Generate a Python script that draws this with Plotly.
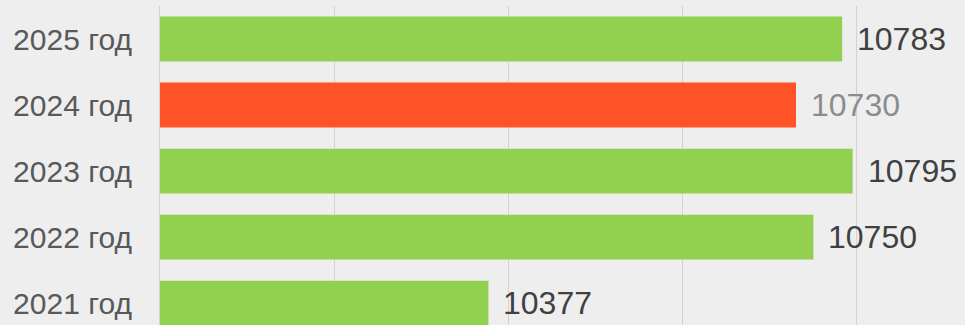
import plotly.graph_objects as go

# Data
years = ["2021 год", "2022 год", "2023 год", "2024 год", "2025 год"]
values = [10377, 10750, 10795, 10730, 10783]
bar_colors = ["#92D050", "#92D050", "#92D050", "#FF5227", "#92D050"]
label_colors = ["#404040", "#404040", "#404040", "#8C8C8C", "#404040"]

x_start = 10000
x_end = 10924
grid_step = 200

fig = go.Figure()
fig.add_trace(go.Bar(
    y=years,
    x=values,
    orientation="h",
    marker=dict(color=bar_colors, line=dict(width=0)),
    width=0.68,
    hoverinfo="skip",
))

# Value labels to the right of each bar
for yr, v, c in zip(years, values, label_colors):
    fig.add_annotation(
        x=v, y=yr, text=str(v), showarrow=False,
        xanchor="left", yanchor="middle", xshift=13,
        font=dict(family="Liberation Sans, Arial, sans-serif", size=32, color=c),
    )

fig.update_layout(
    width=965, height=325,
    margin=dict(l=160, r=0, t=6, b=0),
    paper_bgcolor="#EEEEEE",
    plot_bgcolor="rgba(0,0,0,0)",
    showlegend=False,
    xaxis=dict(
        range=[x_start, x_end],
        dtick=grid_step, tick0=x_start,
        showgrid=True, gridcolor="#D2D2D2", gridwidth=1,
        showticklabels=False, zeroline=False, showline=False,
        fixedrange=True,
    ),
    yaxis=dict(
        categoryorder="array", categoryarray=years,
        range=[-0.33, 4.5],
        showgrid=False, zeroline=False,
        showline=True, linecolor="#D2D2D2", linewidth=1,
        ticks="", ticklabelstandoff=21,
        tickfont=dict(family="Liberation Sans, Arial, sans-serif", size=30, color="#595959"),
        fixedrange=True,
    ),
)

fig.write_html("out.html")
